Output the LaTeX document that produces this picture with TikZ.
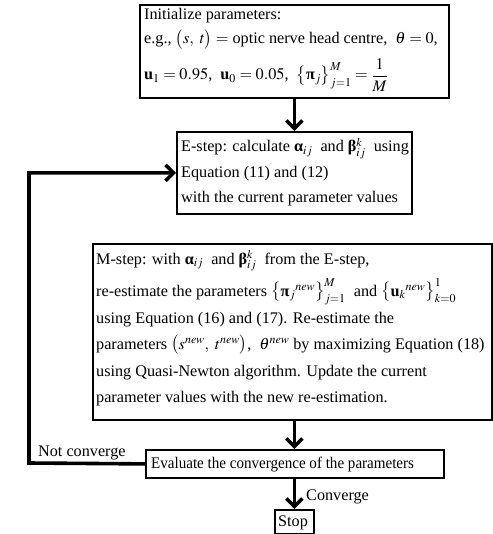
\documentclass[tikz,border=0pt]{standalone}
\usepackage{amsmath}
\usepackage{mathptmx}
\usepackage{fontspec}
\setmainfont{Liberation Serif}
\usetikzlibrary{arrows.meta}
\newcommand{\bga}{\textbf{α}}
\newcommand{\bgb}{\textbf{β}}
\newcommand{\bgp}{\textbf{π}}
\begin{document}
\begin{tikzpicture}[x=1pt,y=-1pt,
  box/.style={draw, line width=1.8pt, rectangle, inner sep=0pt, anchor=north west},
  txt/.style={anchor=base west, inner sep=0pt, font=\fontsize{16.2}{20}\selectfont},
  flow/.style={line width=3.6pt, line join=miter, -{Straight Barb[length=8pt,width=16pt]}},
  lbl/.style={font=\fontsize{16.2}{20}\selectfont, inner sep=0pt}]
\useasboundingbox (0,0) rectangle (492,534);
\fill[white] (0,0) rectangle (492,534);

% boxes
\node[box, minimum width=309pt, minimum height=93pt] (init) at (139,4) {};
\node[box, minimum width=235pt, minimum height=82pt] (estep) at (176,131) {};
\node[box, minimum width=399pt, minimum height=176pt] (mstep) at (92,243) {};
\node[box, minimum width=298pt, minimum height=28pt] (eval) at (145,449) {};
\node[box, minimum width=39pt, minimum height=24pt] (stop) at (274,509) {};

% Initialize
\node[txt] (i1) at (144,20) {Initialize parameters:};
\node[txt] (i2) at (144,44) {e.g., $\bigl(s,\ t\bigr) = $ optic nerve head centre, \ $\theta = 0$,};
\node[txt] (i3) at (144,80) {$\mathbf{u}_1 = 0.95$, \ $\mathbf{u}_0 = 0.05$, \ $\bigl\{$\bgp$_j\bigr\}_{j=1}^{M} = \dfrac{1}{M}$};

% E-step
\node[txt] (e1) at (181,152) {E-step: calculate \bga$_{ij}$ \ and \bgb$_{ij}^{k}$ \ using};
\node[txt] (e2) at (181,178) {Equation (11) and (12)};
\node[txt] (e3) at (181,203) {with the current parameter values};

% M-step
\node[txt] (m1) at (96,264) {M-step: with \bga$_{ij}$ \ and \bgb$_{ij}^{k}$ \ from the E-step,};
\node[txt] (m2) at (96,296) {re-estimate the parameters $\bigl\{$\bgp$_j{}^{new}\bigr\}_{j=1}^{M}$ \ and $\bigl\{\mathbf{u}_k{}^{new}\bigr\}_{k=0}^{1}$};
\node[txt] (m3) at (96,323) {using Equation (16) and (17). Re-estimate the};
\node[txt] (m4) at (96,349) {parameters $\bigl(s^{new},\ t^{new}\bigr)$, \ $\theta^{new}$ by maximizing Equation (18)};
\node[txt] (m5) at (96,376) {using Quasi-Newton algorithm. Update the current};
\node[txt] (m6) at (96,402) {parameter values with the new re-estimation.};

% Evaluate and Stop
\node[txt] (v1) at (151,468) {\scalebox{0.93}[1]{Evaluate the convergence of the parameters}};
\node[txt] (s1) at (278,526) {Stop};

\coordinate (fb) at (29,463);

\draw[flow] (init.south -| estep.south) -- (estep.north);
\draw[flow] (mstep.south -| estep.south) -- (eval.north -| estep.south);
\draw[flow] (eval.south -| stop.north) -- (stop.north);
\draw[flow] (eval.west) -- (fb) |- (estep.west);

\node[lbl, anchor=base west] (nc) at (38,456) {Not converge};
\node[lbl, anchor=base west] (cv) at (306,500) {Converge};
\end{tikzpicture}
\end{document}
